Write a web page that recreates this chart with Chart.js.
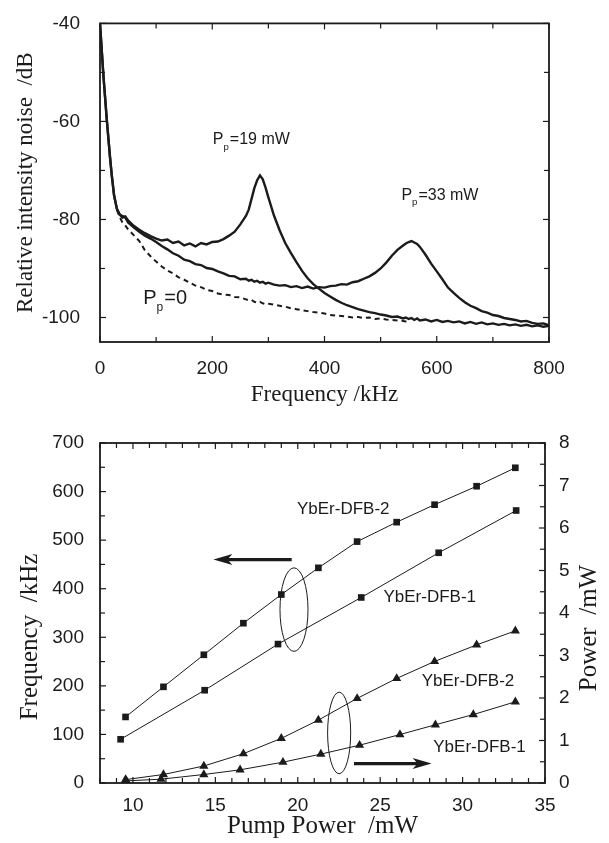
<!DOCTYPE html>
<html lang="en">
<head>
<meta charset="UTF-8">
<meta name="viewport" content="width=device-width, initial-scale=1.0">
<title>YbEr-DFB laser noise and relaxation oscillation</title>
<script src="https://cdn.jsdelivr.net/npm/chart.js"></script>
<style>
    body {
        margin: 0;
        background: #fff;
    }
    #page {
        position: relative;
        width: 609px;
        height: 843px;
        overflow: hidden;
    }
    .panel {
        position: absolute;
        left: 0;
        width: 609px;
    }
    #rinPanel { top: 0; height: 420px; }
    #pumpPanel { top: 420px; height: 423px; }
</style>
</head>
<body>
<div id="page">
    <div class="panel" id="rinPanel"><canvas id="rinChart" width="609" height="420"></canvas></div>
    <div class="panel" id="pumpPanel"><canvas id="pumpChart" width="609" height="423"></canvas></div>
</div>

<script>
    // ---- top panel: relative intensity noise spectra ----
    const freqKHz = [0, 2, 4, 6, 8, 10, 12, 15, 18, 21,
        25, 30, 35, 40, 45, 50, 60, 70, 80, 90,
        100, 110, 120, 130, 140, 150, 160, 170, 180, 190,
        200, 210, 220, 230, 240, 250, 260, 265, 270, 275,
        280, 285, 290, 295, 300, 310, 320, 330, 340, 350,
        360, 370, 380, 390, 400, 410, 420, 430, 440, 450,
        460, 470, 480, 490, 500, 510, 520, 530, 540, 545,
        550, 555, 560, 565, 570, 580, 590, 600, 610, 620,
        630, 640, 650, 660, 670, 680, 690, 700, 710, 720,
        730, 740, 750, 760, 770, 780, 790, 800];

    const rin19mW = [-40, -43.5, -47, -50.5, -53.5, -56.5, -59.5, -63.5, -67.5, -71,
        -75, -77.8, -79, -79.6, -79.4, -80.2, -81.3, -82.1, -82.8, -83.4,
        -83.9, -84.3, -84.1, -84.8, -84.5, -85.3, -84.9, -85.5, -84.8, -85.1,
        -84.6, -84.5, -84.0, -83.3, -82.5, -81.0, -79.3, -78.0, -75.8, -73.6,
        -72.0, -71.0, -71.8, -73.5, -75.5, -79.2, -82.2, -84.8, -86.8, -88.7,
        -90.5, -92.0, -93.2, -94.1, -95.0, -95.7, -96.4, -97.0, -97.5, -97.9,
        -98.3, -98.6, -98.9, -99.1, -99.4, -99.6, -99.9, -99.8, -100.2, -100.0,
        -100.3, -100.1, -100.5, -100.2, -100.6, -100.4, -100.8, -100.5, -100.9, -100.7,
        -101.0, -100.8, -101.2, -100.9, -101.3, -101.0, -101.4, -101.2, -101.5, -101.3,
        -101.6, -101.4, -101.7, -101.5, -101.8, -101.6, -101.9, -101.7];

    const rin33mW = [-40, -43.5, -47, -50.5, -53.5, -56.5, -59.5, -63.5, -67.5, -71,
        -75, -77.8, -79, -79.3, -79.6, -80.6, -81.6, -82.5, -83.3, -83.9,
        -84.6, -85.4, -86.1, -86.9, -87.4, -88.2, -88.5, -89.1, -89.3, -89.9,
        -90.1, -90.6, -91.0, -91.5, -91.6, -92.2, -92.1, -92.5, -92.3, -92.7,
        -92.5, -92.9, -92.7, -93.1, -92.9, -93.3, -93.5, -93.4, -93.8, -93.6,
        -94.0, -93.7, -94.1, -93.8, -93.9, -93.6, -93.5, -93.2, -93.3, -92.8,
        -92.6, -92.1, -91.6, -90.9, -90.0, -88.8, -87.4, -86.2, -85.3, -84.9,
        -84.6, -84.4, -84.7, -85.0, -85.6, -87.2, -89.0, -90.6, -92.2, -93.9,
        -95.0, -96.0, -96.9, -97.6, -98.1, -98.7, -99.0, -99.5, -99.7, -100.1,
        -100.3, -100.5, -100.8, -100.7, -101.1, -101.3, -101.2, -101.6];

    // no pump: trace only visible (dashed) from ~30 to 550 kHz
    const rinPump0 = [null, null, null, null, null, null, null, null, null, null,
        null, -78, -79.5, -80.6, -81.2, -82.0, -83.2, -84.4, -86.3, -87.5,
        -88.6, -89.6, -90.4, -91.0, -91.8, -92.3, -92.9, -93.5, -93.8, -94.4,
        -94.6, -95.1, -95.3, -95.4, -95.8, -95.9, -96.3, -96.5, -96.4, -96.8,
        -97.0, -96.8, -97.1, -97.3, -97.2, -97.4, -97.6, -97.8, -98.1, -98.3,
        -98.5, -98.7, -98.9, -99.0, -99.2, -99.5, -99.6, -99.7, -99.8, -100.0,
        -99.9, -100.1, -100.0, -100.3, -100.2, -100.4, -100.5, -100.6, -100.7, -100.8,
        -100.9];

    const rinFreqTicks = [0, 200, 400, 600, 800];
    const rinDbTicks = [-100, -80, -60, -40];

    // ---- bottom panel: relaxation frequency and output power vs pump ----
    const pumpDFB2 = [9.55, 11.85, 14.3, 16.7, 19.0, 21.25, 23.6, 26.0, 28.3, 30.85, 33.2];
    const freqDFB2 = [136, 198, 264, 329, 388, 443, 497, 537, 573, 611, 649];
    const pumpDFB1 = [9.25, 14.35, 18.8, 23.85, 28.55, 33.25];
    const freqDFB1 = [90, 191, 286, 382, 474, 561];

    const powerDFB2 = [0.08, 0.20, 0.40, 0.69, 1.05, 1.48, 1.99, 2.46, 2.86, 3.25, 3.58];
    const pumpPowerDFB1 = [9.6, 11.7, 14.3, 16.5, 19.1, 21.4, 23.75, 26.2, 28.35, 30.65, 33.2];
    const powerDFB1 = [0.05, 0.09, 0.20, 0.31, 0.49, 0.68, 0.89, 1.14, 1.37, 1.61, 1.91];

    const pumpTicks = [10, 15, 20, 25, 30, 35];
    const kHzTicks = [0, 100, 200, 300, 400, 500, 600, 700];
    const mWTicks = [0, 1, 2, 3, 4, 5, 6, 7, 8];

    const ink = '#1b1b1b';
    const sansFamily = "'Liberation Sans', Arial, sans-serif";
    const serifFamily = "'Liberation Serif', 'Times New Roman', serif";

    function pairs(xs, ys) {
        return ys.map((y, i) => ({ x: xs[i], y: y }));
    }
    function fixedTicks(values) {
        return scale => { scale.ticks = values.map(v => ({ value: v })); };
    }

    // box frame + inward tick marks on all four sides
    const frameTicks = {
        id: 'frameTicks',
        afterDatasetsDraw(chart, args, opts) {
            const { ctx, chartArea: a } = chart;
            ctx.save();
            ctx.strokeStyle = ink;
            ctx.lineWidth = 1.2;
            opts.marks.forEach(m => {
                const s = chart.scales[m.scale];
                const first = Math.ceil(s.min / m.step - 1e-6) * m.step;
                for (let i = 0; ; i++) {
                    const v = first + i * m.step;
                    if (v > s.max + 1e-6) break;
                    const p = s.getPixelForValue(v);
                    const major = Math.abs(v / m.major - Math.round(v / m.major)) < 1e-6;
                    const len = major ? 6 : 5;
                    ctx.beginPath();
                    if (m.edge === 'bottom') { ctx.moveTo(p, a.bottom); ctx.lineTo(p, a.bottom - len); }
                    if (m.edge === 'top') { ctx.moveTo(p, a.top); ctx.lineTo(p, a.top + len); }
                    if (m.edge === 'left') { ctx.moveTo(a.left, p); ctx.lineTo(a.left + len, p); }
                    if (m.edge === 'right') { ctx.moveTo(a.right, p); ctx.lineTo(a.right - len, p); }
                    ctx.stroke();
                }
            });
            ctx.lineWidth = 1.8;
            ctx.strokeRect(a.left, a.top, a.right - a.left, a.bottom - a.top);
            ctx.restore();
        }
    };

    // text labels (with subscripts), ellipses and arrows placed in data coordinates
    const notes = {
        id: 'notes',
        afterDatasetsDraw(chart, args, opts) {
            const ctx = chart.ctx;
            const xs = chart.scales.x;
            ctx.save();
            ctx.fillStyle = ink;
            ctx.strokeStyle = ink;
            opts.items.forEach(n => {
                const ys = chart.scales[n.yAxis || 'y'];
                const px = xs.getPixelForValue(n.x);
                const py = ys.getPixelForValue(n.y);
                if (n.kind === 'text') {
                    let cx = px;
                    ctx.textBaseline = 'alphabetic';
                    ctx.textAlign = 'left';
                    n.parts.forEach(([t, sub]) => {
                        const size = sub ? n.size * 0.6 : n.size;
                        ctx.font = size + 'px ' + sansFamily;
                        ctx.fillText(t, cx, sub ? py + n.size * 0.35 : py);
                        cx += ctx.measureText(t).width + (sub ? 1 : 0);
                    });
                } else if (n.kind === 'ellipse') {
                    const rx = Math.abs(xs.getPixelForValue(n.x + n.rx) - px);
                    const ry = Math.abs(ys.getPixelForValue(n.y + n.ry) - py);
                    ctx.lineWidth = 1;
                    ctx.beginPath();
                    ctx.ellipse(px, py, rx, ry, 0, 0, Math.PI * 2);
                    ctx.stroke();
                } else if (n.kind === 'arrow') {
                    const tip = xs.getPixelForValue(n.x2);
                    const dir = Math.sign(tip - px);
                    ctx.lineWidth = 3.2;
                    ctx.beginPath();
                    ctx.moveTo(px, py);
                    ctx.lineTo(tip - dir * 12, py);
                    ctx.stroke();
                    ctx.beginPath();
                    ctx.moveTo(tip, py);
                    ctx.lineTo(tip - dir * 19, py - 5.5);
                    ctx.lineTo(tip - dir * 14, py);
                    ctx.lineTo(tip - dir * 19, py + 5.5);
                    ctx.closePath();
                    ctx.fill();
                }
            });
            ctx.restore();
        }
    };

    // y titles that read bottom-to-top on both sides
    const sideTitles = {
        id: 'sideTitles',
        afterDraw(chart, args, opts) {
            const ctx = chart.ctx;
            ctx.save();
            ctx.fillStyle = ink;
            ctx.font = opts.size + 'px ' + serifFamily;
            ctx.textAlign = 'center';
            ctx.textBaseline = 'middle';
            opts.items.forEach(t => {
                ctx.save();
                ctx.translate(t.x, t.y);
                ctx.rotate(-Math.PI / 2);
                ctx.fillText(t.text, 0, 0);
                ctx.restore();
            });
            ctx.restore();
        }
    };

    const tickStyle = { font: { family: sansFamily, size: 19 }, color: ink, maxRotation: 0, autoSkip: false };

    new Chart(document.getElementById('rinChart'), {
        type: 'line',
        data: {
            datasets: [
                { label: 'Pp=19 mW', data: pairs(freqKHz, rin19mW), borderColor: ink, borderWidth: 2.4, pointRadius: 0 },
                { label: 'Pp=33 mW', data: pairs(freqKHz, rin33mW), borderColor: ink, borderWidth: 2.4, pointRadius: 0 },
                { label: 'Pp=0', data: pairs(freqKHz, rinPump0), borderColor: ink, borderWidth: 2, borderDash: [5, 4], pointRadius: 0 }
            ]
        },
        options: {
            responsive: false,
            animation: false,
            events: [],
            layout: { padding: { top: 20, right: 60, bottom: 0, left: 0 } },
            plugins: {
                legend: { display: false },
                tooltip: { enabled: false },
                frameTicks: {
                    marks: [
                        { scale: 'x', edge: 'bottom', step: 100, major: 200 },
                        { scale: 'x', edge: 'top', step: 100, major: 200 },
                        { scale: 'y', edge: 'left', step: 10, major: 20 },
                        { scale: 'y', edge: 'right', step: 10, major: 20 }
                    ]
                },
                notes: {
                    items: [
                        { kind: 'text', x: 201, y: -64.6, size: 16, parts: [['P'], ['p', true], ['=19 mW']] },
                        { kind: 'text', x: 537, y: -76.0, size: 16, parts: [['P'], ['p', true], ['=33 mW']] },
                        { kind: 'text', x: 77, y: -97.3, size: 20, parts: [['P'], ['p', true], ['=0']] }
                    ]
                }
            },
            scales: {
                x: {
                    type: 'linear', min: 0, max: 800,
                    grid: { display: false }, border: { display: false },
                    afterBuildTicks: fixedTicks(rinFreqTicks),
                    afterFit: s => { s.height = 78; },
                    ticks: Object.assign({ padding: 7 }, tickStyle),
                    title: { display: true, text: 'Frequency /kHz', color: ink,
                        font: { family: serifFamily, size: 23 }, padding: { top: 0, bottom: 11 } }
                },
                y: {
                    type: 'linear', min: -105, max: -40,
                    grid: { display: false }, border: { display: false },
                    afterBuildTicks: fixedTicks(rinDbTicks),
                    afterFit: s => { s.width = 100; },
                    ticks: Object.assign({ padding: 12 }, tickStyle),
                    title: { display: true, text: 'Relative intensity noise  /dB', color: ink,
                        font: { family: serifFamily, size: 23 }, padding: { top: 12, bottom: 0 } }
                }
            }
        },
        plugins: [frameTicks, notes]
    });

    new Chart(document.getElementById('pumpChart'), {
        type: 'line',
        data: {
            datasets: [
                { label: 'YbEr-DFB-2 frequency', data: pairs(pumpDFB2, freqDFB2), yAxisID: 'y',
                  borderColor: ink, borderWidth: 1, pointStyle: 'rect', pointRadius: 4.7, pointBackgroundColor: ink, pointBorderWidth: 0 },
                { label: 'YbEr-DFB-1 frequency', data: pairs(pumpDFB1, freqDFB1), yAxisID: 'y',
                  borderColor: ink, borderWidth: 1, pointStyle: 'rect', pointRadius: 4.7, pointBackgroundColor: ink, pointBorderWidth: 0 },
                { label: 'YbEr-DFB-2 power', data: pairs(pumpDFB2, powerDFB2), yAxisID: 'y2',
                  borderColor: ink, borderWidth: 1, pointStyle: 'triangle', pointRadius: 5.3, pointBackgroundColor: ink, pointBorderWidth: 0 },
                { label: 'YbEr-DFB-1 power', data: pairs(pumpPowerDFB1, powerDFB1), yAxisID: 'y2',
                  borderColor: ink, borderWidth: 1, pointStyle: 'triangle', pointRadius: 5.3, pointBackgroundColor: ink, pointBorderWidth: 0 }
            ]
        },
        options: {
            responsive: false,
            animation: false,
            events: [],
            layout: { padding: { top: 23, right: 0, bottom: 0, left: 0 } },
            plugins: {
                legend: { display: false },
                tooltip: { enabled: false },
                frameTicks: {
                    marks: [
                        { scale: 'x', edge: 'bottom', step: 1, major: 5 },
                        { scale: 'x', edge: 'top', step: 1, major: 5 },
                        { scale: 'y', edge: 'left', step: 50, major: 100 },
                        { scale: 'y2', edge: 'right', step: 0.5, major: 1 }
                    ]
                },
                notes: {
                    items: [
                        { kind: 'text', x: 19.95, y: 554, size: 17, parts: [['YbEr-DFB-2']] },
                        { kind: 'text', x: 25.2, y: 373, size: 17, parts: [['YbEr-DFB-1']] },
                        { kind: 'text', x: 27.52, y: 199, size: 17, parts: [['YbEr-DFB-2']] },
                        { kind: 'text', x: 28.22, y: 63, size: 17, parts: [['YbEr-DFB-1']] },
                        { kind: 'ellipse', x: 19.77, y: 357, rx: 0.85, ry: 86 },
                        { kind: 'ellipse', x: 22.51, y: 103, rx: 0.70, ry: 84 },
                        { kind: 'arrow', x: 19.63, x2: 14.88, y: 460 },
                        { kind: 'arrow', x: 23.41, x2: 28.12, y: 40 }
                    ]
                },
                sideTitles: {
                    size: 25,
                    items: [
                        { text: 'Frequency  /kHz', x: 30, y: 217 },
                        { text: 'Power  /mW', x: 589, y: 208 }
                    ]
                }
            },
            scales: {
                x: {
                    type: 'linear', min: 8, max: 35,
                    grid: { display: false }, border: { display: false },
                    afterBuildTicks: fixedTicks(pumpTicks),
                    afterFit: s => { s.height = 60; },
                    ticks: Object.assign({ padding: 3 }, tickStyle),
                    title: { display: true, text: 'Pump Power  /mW', color: ink,
                        font: { family: serifFamily, size: 25 }, padding: { top: 0, bottom: 2 } }
                },
                y: {
                    type: 'linear', position: 'left', min: 0, max: 700,
                    grid: { display: false }, border: { display: false },
                    afterBuildTicks: fixedTicks(kHzTicks),
                    afterFit: s => { s.width = 100; },
                    ticks: Object.assign({ padding: 8 }, tickStyle)
                },
                y2: {
                    type: 'linear', position: 'right', min: 0, max: 8,
                    grid: { display: false }, border: { display: false },
                    afterBuildTicks: fixedTicks(mWTicks),
                    afterFit: s => { s.width = 64; },
                    ticks: Object.assign({ padding: 6 }, tickStyle)
                }
            }
        },
        plugins: [frameTicks, notes, sideTitles]
    });
</script>
</body>
</html>
